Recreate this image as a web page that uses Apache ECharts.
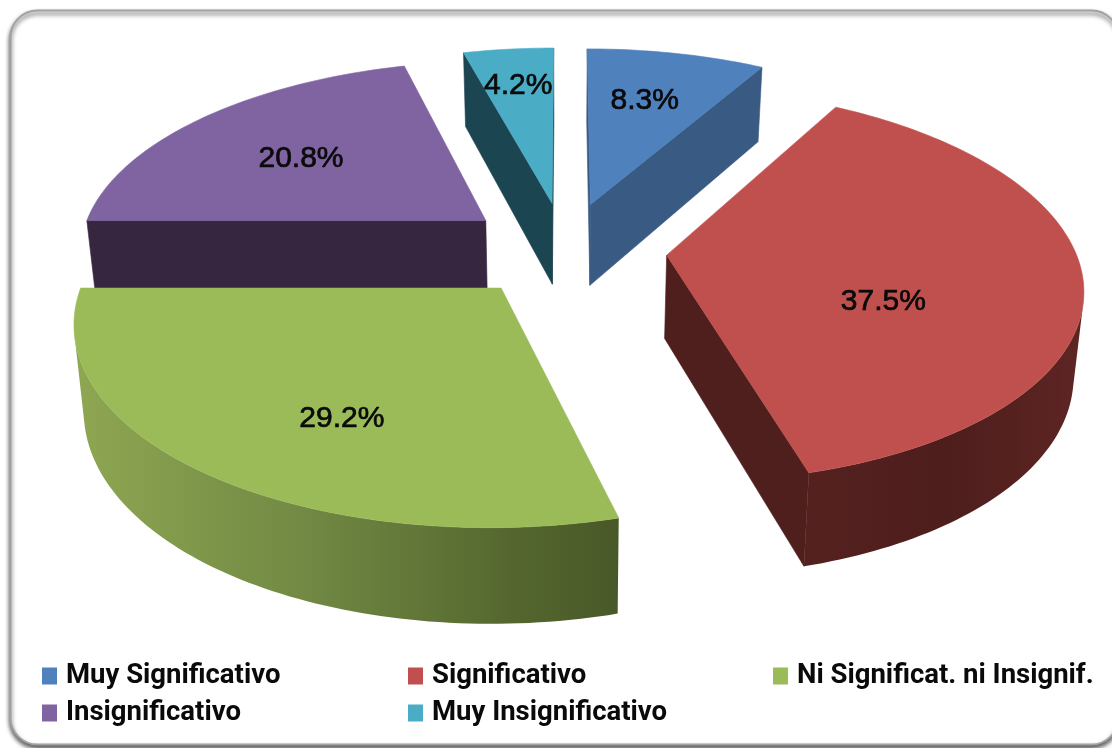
<!DOCTYPE html>
<html><head><meta charset="utf-8">
<style>html,body{margin:0;padding:0;background:#fff}#c{width:1112px;height:748px}</style>
<script src="https://cdn.jsdelivr.net/npm/echarts@6/dist/echarts.min.js"></script>
</head><body><div id="c"></div>
<script>
const categories=['Muy Significativo','Significativo','Ni Significat. ni Insignif.','Insignificativo','Muy Insignificativo'];
const values=[8.3,37.5,29.2,20.8,4.2];
const topColors=['#4f81bd','#c0504d','#9bbb59','#8064a2','#4bacc6'];
const sideColors=['#395a83','#4f1f1d','#4a5a29','#36263f','#1c4552'];
const drawOrder=[4,3,0,1,2];
const labelRadius=[.67,.55,.665,.62,.75];
const labelTurn=[-1.4,16.6,-7.5,-1,0];

// Camera fit of the picture's 3D pie
const VIEW={cx:565,cy:249,bx:408,by:191,k:.149,explode:.25,depth:83,depthSkew:9,shrink:.98};
const total=values.reduce((a,b)=>a+b,0);
const starts=[];values.reduce((s,v,i)=>(starts[i]=s,s+v),0);

function project(wx,wy,z){
  const w=1+VIEW.k*wy,g=wy/w;
  const X=VIEW.cx+VIEW.bx*wx/w,Y=VIEW.cy-VIEW.by*g;
  if(!z)return [X,Y];
  return [VIEW.cx+(X-VIEW.cx)*VIEW.shrink,Y+VIEW.depth-VIEW.depthSkew*g];
}
function area(p){let s=0;for(let i=0;i<p.length;i++){const a=p[i],b=p[(i+1)%p.length];s+=a[0]*b[1]-b[0]*a[1];}return s/2;}
function poly(points,fill){return {type:'polygon',shape:{points},style:{fill,stroke:fill&&fill.colorStops?null:fill,lineWidth:.6},silent:true};}
function sideFill(i){
  if(i===2)return new echarts.graphic.LinearGradient(0,0,1,0,[{offset:0,color:'#8fa752'},{offset:.45,color:'#6f8742'},{offset:.8,color:'#55672f'},{offset:1,color:'#485828'}]);
  if(i===1)return new echarts.graphic.LinearGradient(0,0,1,0,[{offset:0,color:'#55211f'},{offset:.5,color:'#4d1e1c'},{offset:1,color:'#5e2523'}]);
  return sideColors[i];
}
function renderSlice(i){
  const a0=starts[i]/total*2*Math.PI,a1=(starts[i]+values[i])/total*2*Math.PI,mid=(a0+a1)/2;
  const ax=VIEW.explode*Math.sin(mid),ay=VIEW.explode*Math.cos(mid);
  const n=Math.max(8,Math.ceil((a1-a0)*48));
  const rim=[];for(let j=0;j<=n;j++){const t=a0+(a1-a0)*j/n;rim.push([ax+Math.sin(t),ay+Math.cos(t)]);}
  const T=p=>project(p[0],p[1],0),B=p=>project(p[0],p[1],1);
  const apex=[ax,ay],children=[];
  const cut=(p,q)=>{const f=[T(p),T(q),B(q),B(p)];if(area(f)<0)children.push(poly(f,sideColors[i]));};
  cut(apex,rim[0]);cut(rim[n],apex);
  let run=null;const flush=()=>{if(run&&run.length>1){children.push(poly(run.map(T).concat(run.map(B).reverse()),sideFill(i)));}run=null;};
  for(let j=0;j<n;j++){
    const f=[T(rim[j]),T(rim[j+1]),B(rim[j+1]),B(rim[j])];
    if(area(f)<0){if(!run)run=[rim[j]];run.push(rim[j+1]);}else flush();
  }
  flush();
  children.push(poly([T(apex)].concat(rim.map(T)),topColors[i]));
  const la=mid+labelTurn[i]*Math.PI/180,lr=labelRadius[i];
  const lp=project(ax+lr*Math.sin(la),ay+lr*Math.cos(la),0);
  children.push({type:'text',x:lp[0],y:lp[1]+2,silent:true,style:{text:values[i].toFixed(1)+'%',x:0,y:0,align:'center',verticalAlign:'middle',fontFamily:'"Liberation Sans"',fontSize:30,fill:'#0a0a0a',stroke:'#0a0a0a',lineWidth:.7}});
  return {type:'group',children};
}
const series=categories.map((name,i)=>({
  type:'custom',name,coordinateSystem:'none',silent:true,z:10+drawOrder.indexOf(i),
  itemStyle:{color:topColors[i]},data:[[values[i]]],renderItem:()=>renderSlice(i)
}));
const legendBase={orient:'vertical',icon:'rect',itemWidth:15,itemHeight:17,itemGap:7,selectedMode:false,top:661,padding:0,
  textStyle:{fontFamily:'Roboto',fontWeight:'bold',fontSize:27.5,lineHeight:30,color:'#0a0a0a',padding:[0,0,0,4]}};
const chart=echarts.init(document.getElementById('c'),null,{renderer:'canvas'});
chart.setOption({
  animation:false,backgroundColor:'#fff',
  graphic:[{type:'rect',z:0,silent:true,shape:{x:10.5,y:10.5,width:1108,height:734,r:27},
    style:{fill:'#fff',stroke:'#a2a2a2',lineWidth:2,shadowColor:'rgba(50,50,50,.85)',shadowBlur:4,shadowOffsetY:3}}],
  legend:[
    {...legendBase,left:42,data:[categories[0],categories[3]]},
    {...legendBase,left:408,data:[categories[1],categories[4]]},
    {...legendBase,left:773,data:[categories[2]]}
  ],
  series
});
</script></body></html>
